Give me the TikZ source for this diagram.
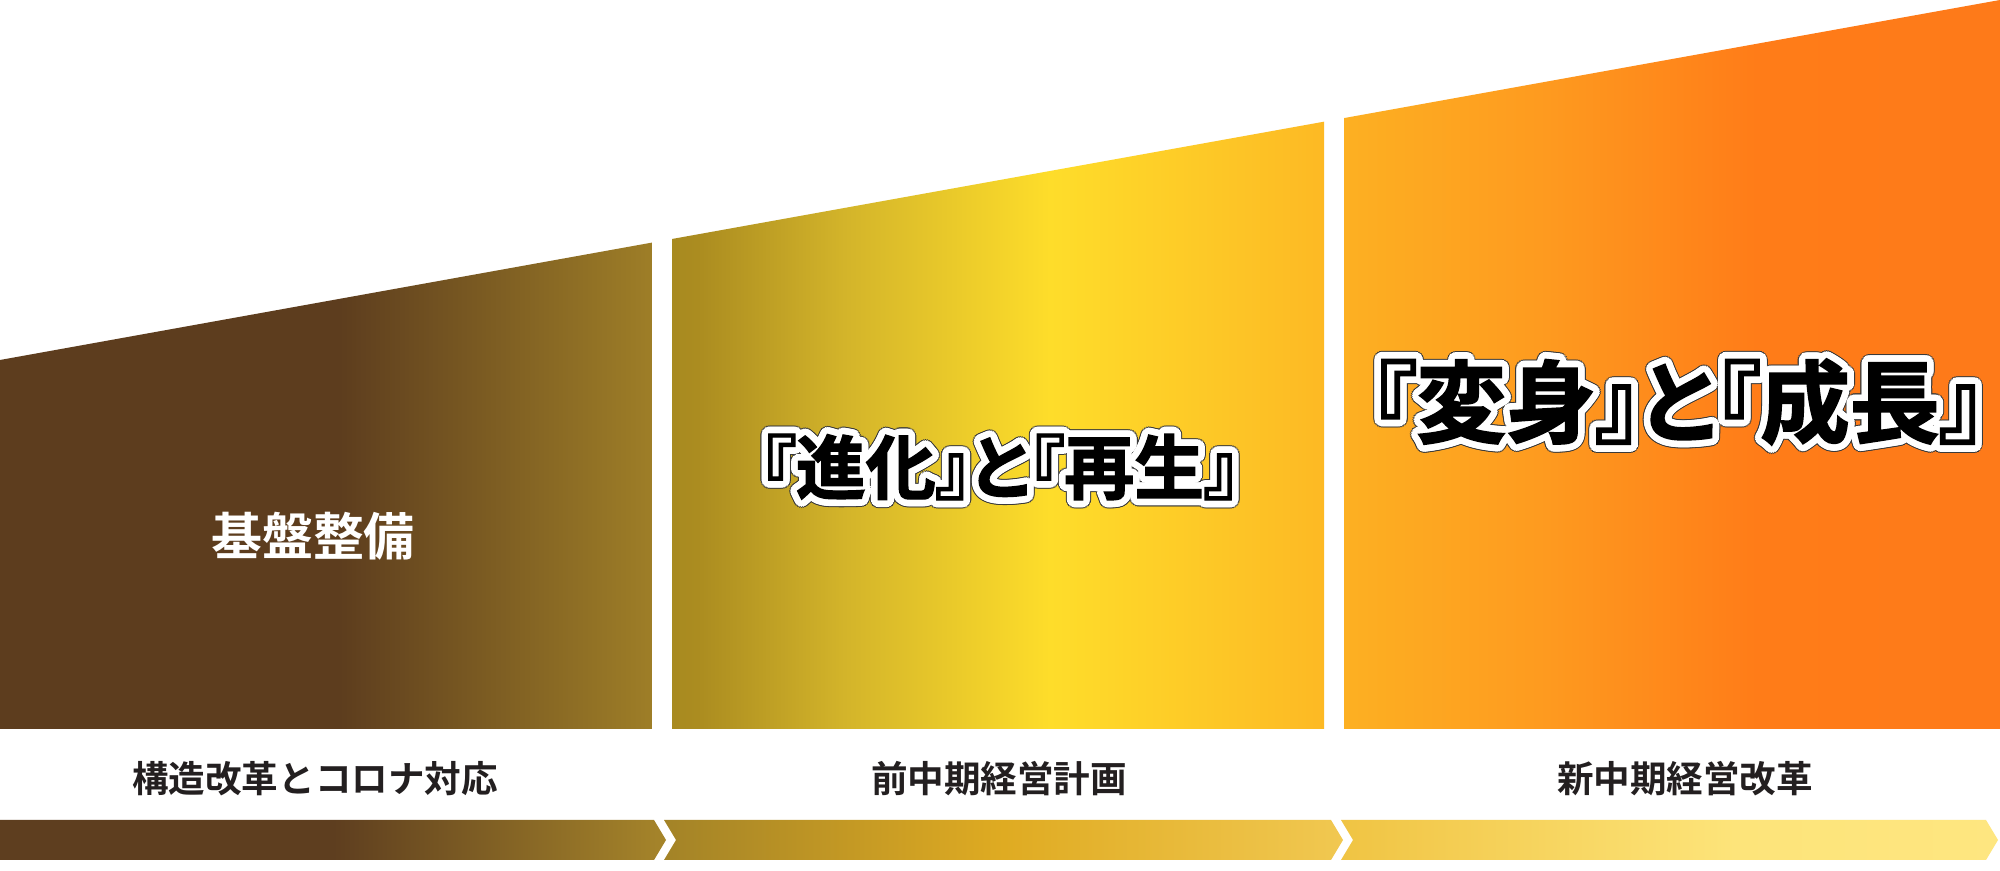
\documentclass[tikz,border=0pt]{standalone}
\usepackage{fontspec}
\setmainfont{Noto Sans CJK JP}
\newfontfamily\gothic{Noto Sans CJK JP Bold}
\newfontfamily\midashi{Noto Sans CJK JP Bold}[RawFeature=+palt,FakeBold=2]

\definecolor{sumi}{HTML}{231F20}
\definecolor{fuchikuro}{HTML}{3A3A3A}
\definecolor{chaA}{HTML}{5D3D1E}
\definecolor{chaB}{HTML}{9E7E27}
\definecolor{kinA}{HTML}{A88A20}
\definecolor{kinB}{HTML}{AB8C20}
\definecolor{kinC}{HTML}{D4B52A}
\definecolor{kinD}{HTML}{FEDD2A}
\definecolor{kinE}{HTML}{FDB924}
\definecolor{daiA}{HTML}{FDB022}
\definecolor{daiB}{HTML}{FE9A1F}
\definecolor{daiC}{HTML}{FF7C18}
\definecolor{daiD}{HTML}{FE7A19}
\definecolor{obiA}{HTML}{5E3E1F}
\definecolor{obiB}{HTML}{A6852A}
\definecolor{obiC}{HTML}{A38327}
\definecolor{obiD}{HTML}{DFAB22}
\definecolor{obiE}{HTML}{F1C851}
\definecolor{obiF}{HTML}{F0C443}
\definecolor{obiG}{HTML}{FDE47A}
\definecolor{obiH}{HTML}{FEE680}

\pgfdeclarehorizontalshading{dankai1}{100bp}{color(0bp)=(chaA); color(25bp)=(chaA); color(51bp)=(chaA); color(75bp)=(chaB); color(100bp)=(chaB)}
\pgfdeclarehorizontalshading{dankai2}{100bp}{color(0bp)=(kinA); color(25bp)=(kinA); color(27bp)=(kinB); color(38.5bp)=(kinC); color(54bp)=(kinD); color(75bp)=(kinE); color(100bp)=(kinE)}
\pgfdeclarehorizontalshading{dankai3}{100bp}{color(0bp)=(daiA); color(25bp)=(daiA); color(40.5bp)=(daiB); color(56.5bp)=(daiC); color(75bp)=(daiD); color(100bp)=(daiD)}
\pgfdeclarehorizontalshading{obi1}{100bp}{color(0bp)=(obiA); color(25bp)=(obiA); color(50bp)=(obiA); color(75bp)=(obiB); color(100bp)=(obiB)}
\pgfdeclarehorizontalshading{obi2}{100bp}{color(0bp)=(obiC); color(25bp)=(obiC); color(50bp)=(obiD); color(75bp)=(obiE); color(100bp)=(obiE)}
\pgfdeclarehorizontalshading{obi3}{100bp}{color(0bp)=(obiF); color(25bp)=(obiF); color(55bp)=(obiG); color(75bp)=(obiH); color(100bp)=(obiH)}

\newcommand{\fuchitext}[1]{%
        \foreach \r/\c in {2.2pt/fuchikuro,1.9pt/white,1.2pt/white,0.6pt/white}{%
                \foreach \a in {0,15,...,345}{%
                        \pgfmathsetlengthmacro{\dx}{\r*cos(\a)}%
                        \pgfmathsetlengthmacro{\dy}{\r*sin(\a)}%
                        \rlap{\kern\dx\relax\raisebox{\dy}{\textcolor{\c}{#1}}}%
                }%
        }%
        \textcolor{black}{#1}}

\begin{document}
\begin{tikzpicture}[x=0.01cm,y=-0.01cm,
        kikan/.style={text=sumi, inner sep=0pt, font=\gothic\fontsize{10.4}{12}\selectfont},
        kiban/.style={text=white, inner sep=0pt, font=\gothic\fontsize{14.5}{16}\selectfont},
        shinka/.style={inner sep=0pt, font=\midashi\fontsize{19.9}{22}\selectfont},
        henshin/.style={inner sep=0pt, font=\midashi\fontsize{25.5}{28}\selectfont}]
        \fill[white] (0,0) rectangle (2000,871);

        \shade[shading=dankai1] (0,360) -- (652,242.6) -- (652,729) -- (0,729) -- cycle;
        \shade[shading=dankai2] (672,239) -- (1324,121.7) -- (1324,729) -- (672,729) -- cycle;
        \shade[shading=dankai3] (1344,118.1) -- (2000,0) -- (2000,729) -- (1344,729) -- cycle;

        \shade[shading=obi1] (0,820) -- (654,820) -- (666,840) -- (654,860) -- (0,860) -- cycle;
        \shade[shading=obi2] (664,820) -- (1331,820) -- (1343,840) -- (1331,860) -- (664,860) -- (676,840) -- cycle;
        \shade[shading=obi3] (1341,820) -- (1986,820) -- (1998,840) -- (1986,860) -- (1341,860) -- (1353,840) -- cycle;

        \node[kiban] (kiban) at (313,536) {基盤整備};
        \node[shinka] (shinka) at (1000,467) {\fuchitext{『進化』と『再生』}};
        \node[henshin] (henshin) at (1678,402) {\fuchitext{『変身』と『成長』}};

        \node[kikan] (kozo) at (315,779) {構造改革とコロナ対応};
        \node[kikan] (zenki) at (999,779) {前中期経営計画};
        \node[kikan] (shinki) at (1685,779) {新中期経営改革};
\end{tikzpicture}
\end{document}
